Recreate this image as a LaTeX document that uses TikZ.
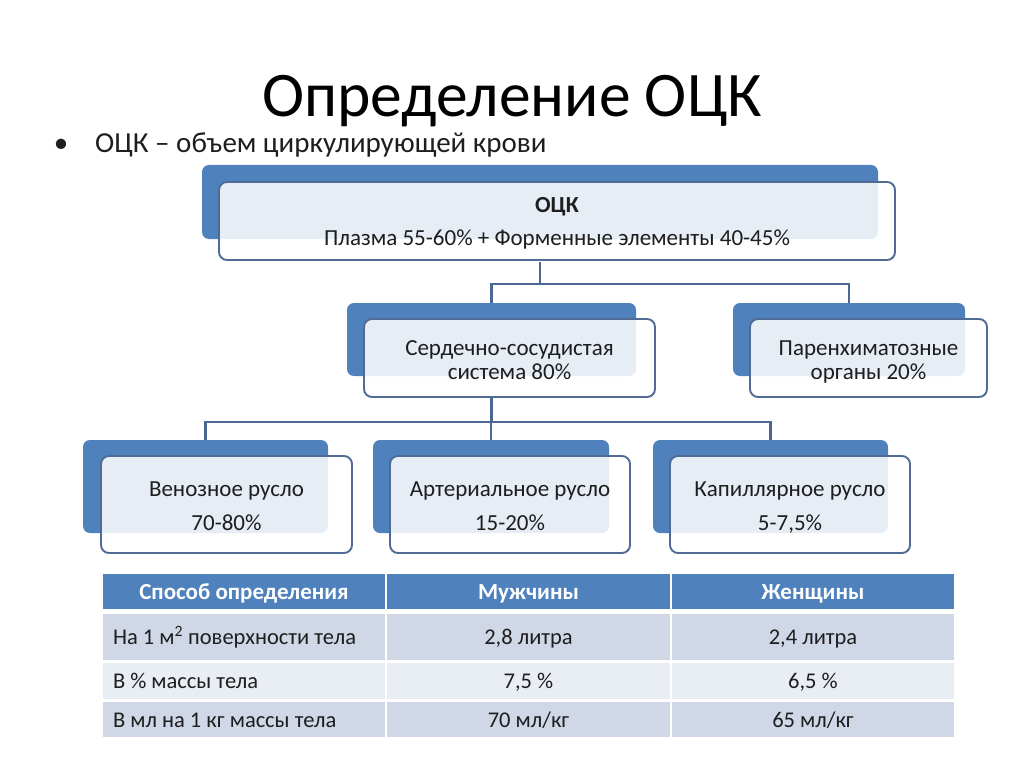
\documentclass[tikz,border=0pt]{standalone}
\usepackage{fontspec}
\setmainfont{Carlito}
\definecolor{bk}{RGB}{79,129,189}
\definecolor{fr}{RGB}{80,108,150}
\definecolor{cn}{RGB}{75,104,148}
\definecolor{tx}{RGB}{30,30,30}
\definecolor{hd}{RGB}{79,129,189}
\definecolor{rowa}{RGB}{208,216,232}
\definecolor{rowb}{RGB}{233,237,244}
\newcommand{\lcell}[1]{\makebox[262pt][l]{#1}}
\tikzset{
  backbox/.style={fill=bk, rounded corners=7pt, inner sep=0pt, outer sep=0pt},
  frontbox/.style={draw=fr, line width=1.9pt, fill=white, fill opacity=0.86, rounded corners=8pt, inner sep=0pt, outer sep=0pt},
  lbl/.style={anchor=base, inner sep=0pt, text=tx, font=\fontsize{23}{28}\selectfont},
  conn/.style={draw=cn, line width=2.2pt},
  cell/.style={inner sep=0pt, outer sep=0pt, text height=15pt, text depth=0pt, text=tx, font=\fontsize{22.5}{26}\selectfont},
  hdcell/.style={cell, fill=hd, text=white, font=\bfseries\fontsize{23}{27}\selectfont},
  firstcol/.style={inner xsep=10pt, minimum width=282pt},
}
\begin{document}
\begin{tikzpicture}[x=1pt,y=-1pt]
\useasboundingbox[fill=white] (0,0) rectangle (1024,767);

% title and bullet
\node[anchor=base, inner sep=0pt, text=black, font=\fontsize{63.5}{70}\selectfont] (title) at (512,117) {Определение ОЦК};
\node[anchor=base, inner sep=0pt, text=tx, font=\fontsize{29}{34}\selectfont] (bul) at (61,153) {\textbullet};
\node[anchor=base west, inner sep=0pt, text=tx, font=\fontsize{29}{34}\selectfont] (sub) at (95,153) {ОЦК – объем циркулирующей крови};

% junction levels
\coordinate (j1) at (0,284);
\coordinate (j2) at (0,422);

% top box
\node[backbox, minimum width=676pt, minimum height=74pt] (topb) at (540,202) {};
% level 2
\node[backbox, minimum width=289pt, minimum height=73pt] (cvb) at (491.5,339.5) {};
\node[backbox, minimum width=232pt, minimum height=73pt] (pob) at (849,339.5) {};
% level 3
\node[backbox, minimum width=245pt, minimum height=93pt] (venb) at (205.5,486.5) {};
\node[backbox, minimum width=236pt, minimum height=93pt] (artb) at (491,486.5) {};
\node[backbox, minimum width=235pt, minimum height=93pt] (capb) at (770.5,486.5) {};

% connectors
\draw[conn] (topb.center |- 0,262) -- (topb.center |- j1) -| (cvb.north);
\draw[conn] (topb.center |- j1) -| (pob.north);
\draw[conn] (cvb.center |- 0,398) -- (cvb.center |- j2) -| (venb.north);
\draw[conn] (cvb.center |- j2) -| (artb.north);
\draw[conn] (cvb.center |- j2) -| (capb.north);

% front boxes
\node[frontbox, minimum width=676pt, minimum height=78pt] (topf) at (557,221) {};
\node[frontbox, minimum width=291pt, minimum height=78pt] (cvf) at (509.5,358) {};
\node[frontbox, minimum width=237pt, minimum height=78pt] (pof) at (868.5,358) {};
\node[frontbox, minimum width=251pt, minimum height=97pt] (venf) at (226.5,504.5) {};
\node[frontbox, minimum width=240pt, minimum height=97pt] (artf) at (510,504.5) {};
\node[frontbox, minimum width=240pt, minimum height=97pt] (capf) at (790,504.5) {};

% box texts
\node[lbl, font=\bfseries\fontsize{23}{28}\selectfont] (topt1) at (topf.center |- 0,213) {ОЦК};
\node[lbl] (topt2) at (topf.center |- 0,245) {Плазма 55-60\% + Форменные элементы 40-45\%};
\node[lbl] (cvt1) at (cvf.center |- 0,355) {Сердечно-сосудистая};
\node[lbl] (cvt2) at (cvf.center |- 0,379) {система 80\%};
\node[lbl] (pot1) at (pof.center |- 0,355) {Паренхиматозные};
\node[lbl] (pot2) at (pof.center |- 0,379) {органы 20\%};
\node[lbl] (vent1) at (venf.center |- 0,496) {Венозное русло};
\node[lbl] (vent2) at (venf.center |- 0,530) {70-80\%};
\node[lbl] (artt1) at (artf.center |- 0,496) {Артериальное русло};
\node[lbl] (artt2) at (artf.center |- 0,530) {15-20\%};
\node[lbl] (capt1) at (capf.center |- 0,496) {Капиллярное русло};
\node[lbl] (capt2) at (capf.center |- 0,530) {5-7,5\%};

% table
\node[hdcell, minimum width=282pt, minimum height=35pt] (h1) at (244,591.5) {Способ определения};
\node[hdcell, minimum width=283pt, minimum height=35pt] (h2) at (528.5,591.5) {Мужчины};
\node[hdcell, minimum width=282pt, minimum height=35pt] (h3) at (813,591.5) {Женщины};

\node[cell, firstcol, fill=rowa, minimum height=46pt] (r1c1) at (244,637) {\lcell{На 1 м\textsuperscript{2} поверхности тела}};
\node[cell, fill=rowa, minimum width=283pt, minimum height=46pt] (r1c2) at (528.5,637) {2,8 литра};
\node[cell, fill=rowa, minimum width=282pt, minimum height=46pt] (r1c3) at (813,637) {2,4 литра};

\node[cell, firstcol, fill=rowb, minimum height=36pt] (r2c1) at (244,681) {\lcell{В \% массы тела}};
\node[cell, fill=rowb, minimum width=283pt, minimum height=36pt] (r2c2) at (528.5,681) {7,5 \%};
\node[cell, fill=rowb, minimum width=282pt, minimum height=36pt] (r2c3) at (813,681) {6,5 \%};

\node[cell, firstcol, fill=rowa, minimum height=35pt] (r3c1) at (244,719.5) {\lcell{В мл на 1 кг массы тела}};
\node[cell, fill=rowa, minimum width=283pt, minimum height=35pt] (r3c2) at (528.5,719.5) {70 мл/кг};
\node[cell, fill=rowa, minimum width=282pt, minimum height=35pt] (r3c3) at (813,719.5) {65 мл/кг};
\end{tikzpicture}
\end{document}
